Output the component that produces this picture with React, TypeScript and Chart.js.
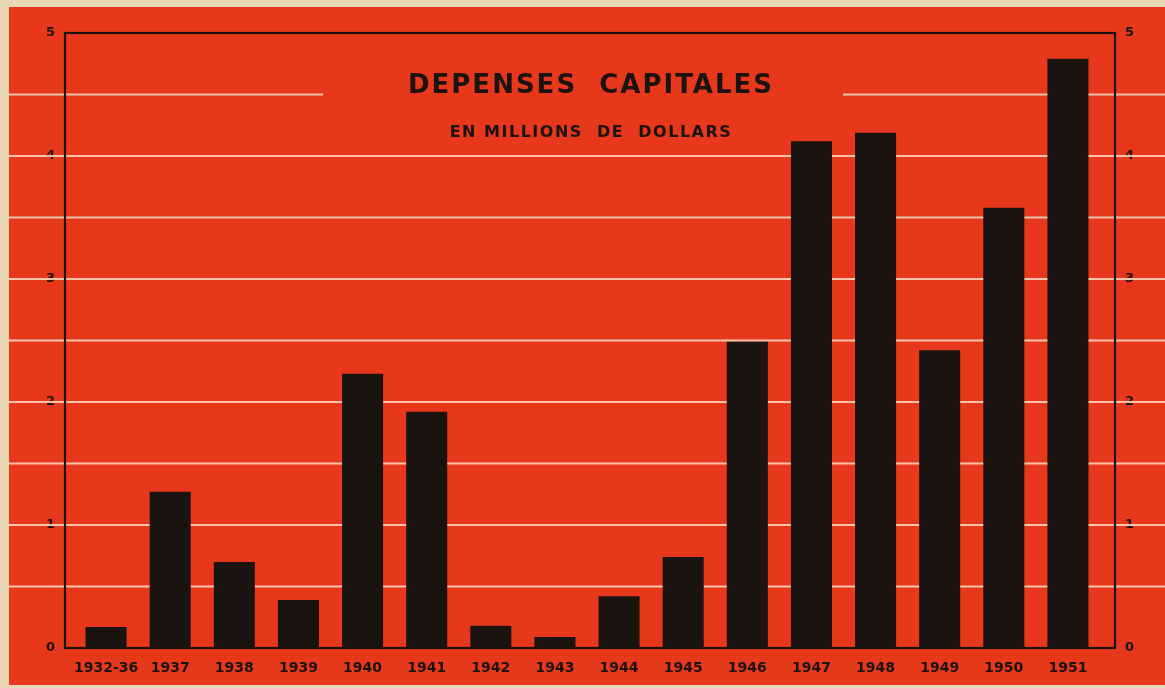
import React, { useEffect, useRef } from "react";
import { Chart, registerables } from "chart.js";

Chart.register(...registerables);

const categories = ["1932-36", "1937", "1938", "1939", "1940", "1941", "1942", "1943", "1944", "1945", "1946", "1947", "1948", "1949", "1950", "1951"];
const values = [0.17, 1.27, 0.7, 0.39, 2.23, 1.92, 0.18, 0.09, 0.42, 0.74, 2.49, 4.12, 4.19, 2.42, 3.58, 4.79];
const gridValues = [0.5, 1, 1.5, 2, 2.5, 3, 3.5, 4, 4.5];
const titleText = "DEPENSES  CAPITALES";
const subtitleText = "EN MILLIONS  DE  DOLLARS";

const PAPER = "#e9d6b2";
const RED = "#e8381b";
const INK = "#1b1310";
const GRID = "rgba(255,222,196,0.85)";
const FONT = "'DejaVu Sans', sans-serif";

const decorPlugin = {
  id: "decor",
  beforeDraw(chart: any) {
    const { ctx, width, height } = chart;
    ctx.save();
    ctx.fillStyle = PAPER;
    ctx.fillRect(0, 0, width, height);
    ctx.fillStyle = RED;
    ctx.fillRect(9, 7, width - 9, height - 10);
    ctx.restore();
  },
  beforeDatasetsDraw(chart: any) {
    const { ctx, width } = chart;
    const y = chart.scales.y;
    ctx.save();
    ctx.strokeStyle = GRID;
    ctx.lineWidth = 2;
    gridValues.forEach((v) => {
      const py = y.getPixelForValue(v);
      ctx.beginPath();
      if (v === 4.5) {
        ctx.moveTo(9, py);
        ctx.lineTo(323, py);
        ctx.moveTo(843, py);
        ctx.lineTo(width, py);
      } else {
        ctx.moveTo(9, py);
        ctx.lineTo(width, py);
      }
      ctx.stroke();
    });
    // title
    ctx.fillStyle = INK;
    ctx.textAlign = "center";
    ctx.textBaseline = "middle";
    const cx = 591;
    ctx.font = `bold 26px ${FONT}`;
    (ctx as any).letterSpacing = "2px";
    ctx.fillText(titleText, cx, 86);
    ctx.font = `bold 16px ${FONT}`;
    (ctx as any).letterSpacing = "1.5px";
    ctx.fillText(subtitleText, cx, 133);
    (ctx as any).letterSpacing = "0px";
    ctx.restore();
  },
  afterDatasetsDraw(chart: any) {
    const { ctx } = chart;
    const y = chart.scales.y;
    const top = y.getPixelForValue(5);
    const bottom = y.getPixelForValue(0);
    ctx.save();
    ctx.strokeStyle = INK;
    ctx.lineWidth = 2.2;
    ctx.strokeRect(65, top, 1115 - 65, bottom - top);
    ctx.restore();
  },
};

export default function App() {
  const ref = useRef<HTMLCanvasElement>(null);
  useEffect(() => {
    if (!ref.current) return;
    const tickFont = { family: FONT, weight: "bold" as const, size: 13 };
    const chart = new Chart(ref.current, {
      type: "bar",
      data: {
        labels: categories,
        datasets: [
          {
            data: values,
            backgroundColor: INK,
            borderWidth: 0,
            barPercentage: 0.64,
            categoryPercentage: 1,
          },
        ],
      },
      options: {
        animation: false,
        responsive: false,
        maintainAspectRatio: false,
        layout: { padding: { left: 0, right: 0, top: 33, bottom: 0 } },
        plugins: { legend: { display: false }, tooltip: { enabled: false } },
        scales: {
          x: {
            type: "category",
            offset: true,
            grid: { display: false, drawTicks: false },
            border: { display: false },
            ticks: { color: INK, font: { family: FONT, weight: "bold", size: 14 }, padding: 12, maxRotation: 0, autoSkip: false },
            afterFit: (s: any) => { s.height = 40; },
          },
          y: {
            position: "left",
            min: 0,
            max: 5,
            grid: { display: false, drawTicks: false },
            border: { display: false },
            ticks: { stepSize: 1, color: INK, font: tickFont, padding: 19 },
            afterFit: (s: any) => { s.width = 74; },
          },
          y2: {
            position: "right",
            min: 0,
            max: 5,
            grid: { display: false, drawTicks: false },
            border: { display: false },
            ticks: { stepSize: 1, color: INK, font: tickFont, padding: 25 },
            afterFit: (s: any) => { s.width = 65; },
          },
        },
      },
      plugins: [decorPlugin],
    });
    return () => chart.destroy();
  }, []);
  return (
    <div style={{ position: "fixed", left: 0, top: 0, width: 1165, height: 688 }}>
      <canvas ref={ref} width={1165} height={688} style={{ width: 1165, height: 688, display: "block" }} />
    </div>
  );
}
